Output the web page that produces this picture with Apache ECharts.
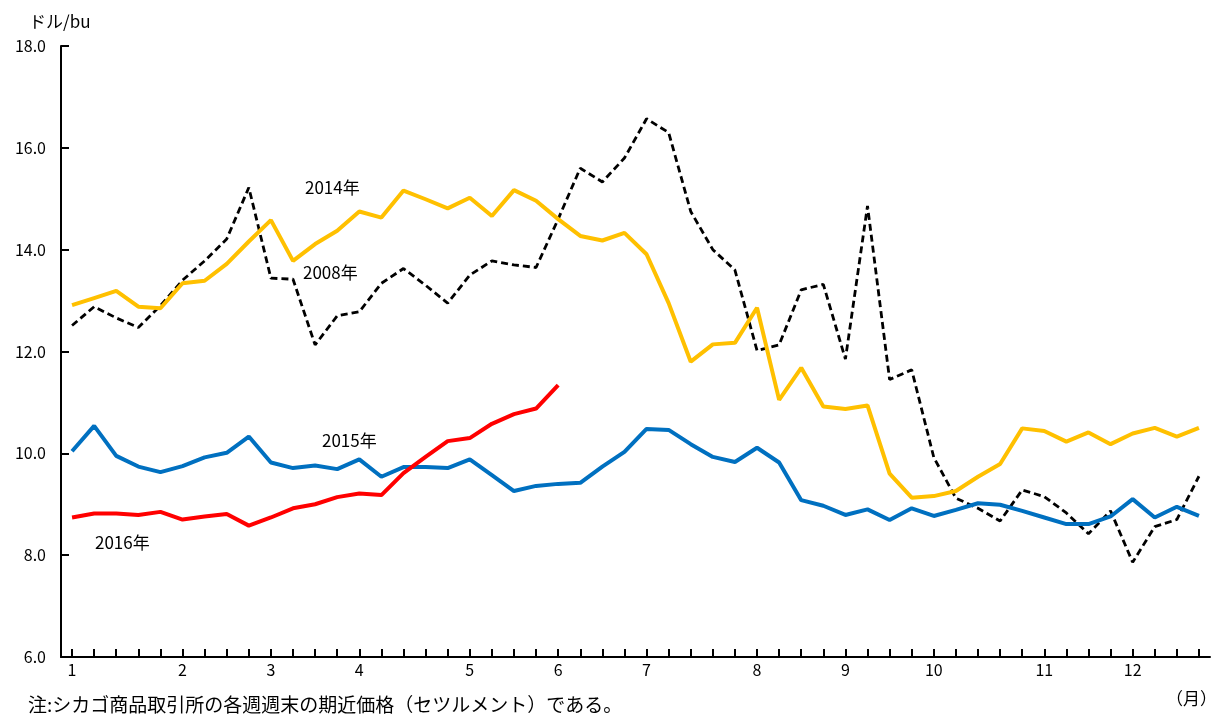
<!DOCTYPE html>
<html>
<head>
<meta charset="utf-8">
<script src="https://cdn.jsdelivr.net/npm/echarts@6/dist/echarts.min.js"></script>
<style>html,body{margin:0;padding:0;background:#fff}#c{width:1215px;height:715px}</style>
</head>
<body>
<div id="c"></div>
<script>
// weekly categories (52 weeks); month label at first week of each month
const monthLabels = ['1','','','','','2','','','','3','','','','4','','','','','5','','','','6','','','','7','','','','','8','','','','9','','','','10','','','','','11','','','','12','','',''];
const s2008 = [12.51,12.88,12.66,12.47,12.90,13.40,13.78,14.21,15.22,13.44,13.42,12.13,12.70,12.78,13.34,13.63,13.30,12.95,13.50,13.78,13.70,13.65,14.60,15.60,15.33,15.80,16.57,16.30,14.75,14.00,13.60,12.02,12.13,13.21,13.32,11.85,14.86,11.45,11.64,9.92,9.12,8.92,8.67,9.28,9.15,8.83,8.42,8.87,7.86,8.56,8.70,9.55];
const s2014 = [12.91,13.05,13.19,12.88,12.85,13.34,13.39,13.72,14.16,14.58,13.78,14.11,14.37,14.75,14.63,15.16,14.99,14.81,15.02,14.66,15.17,14.96,14.60,14.27,14.18,14.33,13.91,12.95,11.80,12.14,12.17,12.86,11.05,11.68,10.92,10.87,10.94,9.60,9.13,9.16,9.26,9.54,9.79,10.49,10.44,10.23,10.41,10.18,10.39,10.50,10.33,10.50];
const s2015 = [10.04,10.54,9.95,9.74,9.63,9.75,9.92,10.01,10.33,9.82,9.71,9.76,9.69,9.88,9.54,9.73,9.73,9.71,9.88,9.57,9.26,9.36,9.40,9.42,9.74,10.03,10.48,10.46,10.18,9.93,9.83,10.11,9.82,9.08,8.97,8.79,8.90,8.69,8.92,8.77,8.89,9.02,8.99,8.87,8.74,8.61,8.61,8.76,9.10,8.74,8.95,8.77];
const s2016 = [8.74,8.82,8.82,8.79,8.85,8.70,8.76,8.81,8.58,8.74,8.92,9.00,9.14,9.21,9.18,9.61,9.93,10.24,10.30,10.58,10.77,10.88,11.34];
const yTicks = [6,8,10,12,14,16,18];

const cats = monthLabels.map((m,i)=>'w'+i);
const font = '"Noto Sans CJK JP", "Liberation Sans", sans-serif';
const txt = (left, top, text, size) => ({type:'text', left, top, style:{text, fill:'#000', fontSize:size, fontFamily:font}});
const chart = echarts.init(document.getElementById('c'));
chart.setOption({
  animation:false,
  grid:{left:61,right:5,top:46,bottom:58,containLabel:false},
  xAxis:{
    type:'category', data:cats, boundaryGap:true,
    axisLine:{show:true,lineStyle:{color:'#000',width:2}},
    axisTick:{show:true,inside:true,length:8,interval:0,alignWithLabel:true,lineStyle:{color:'#000',width:2}},
    axisLabel:{interval:0,margin:5,color:'#000',fontSize:16,fontFamily:font,formatter:(v,i)=>monthLabels[i]},
    splitLine:{show:false}
  },
  yAxis:{
    type:'value', min:yTicks[0], max:yTicks[yTicks.length-1], interval:2,
    name:'ドル/bu', nameLocation:'end', nameGap:16,
    nameTextStyle:{color:'#000',fontSize:17,fontFamily:font,align:'left',padding:[0,0,0,-32]},
    axisLine:{show:true,lineStyle:{color:'#000',width:2}},
    axisTick:{show:true,inside:true,length:8,lineStyle:{color:'#000',width:2}},
    axisLabel:{color:'#000',fontSize:16,fontFamily:font,margin:15,formatter:v=>v.toFixed(1)},
    splitLine:{show:false}
  },
  series:[
    {name:'2008年',type:'line',data:s2008,symbol:'none',lineStyle:{color:'#000',width:2.8,type:[7,4]},z:2},
    {name:'2014年',type:'line',data:s2014,symbol:'none',lineStyle:{color:'#FFC000',width:4},z:3},
    {name:'2015年',type:'line',data:s2015,symbol:'none',lineStyle:{color:'#0070C0',width:4},z:4},
    {name:'2016年',type:'line',data:s2016,symbol:'none',lineStyle:{color:'#FF0000',width:4},z:5}
  ],
  graphic:[
    txt(305,179,'2014年',17),
    txt(303,264,'2008年',17),
    txt(322,432,'2015年',17),
    txt(95,534,'2016年',17),
    txt(1166,690,'（月）',17),
    txt(28,695,'注:シカゴ商品取引所の各週週末の期近価格（セツルメント）である。',19)
  ]
});
</script>
</body>
</html>
